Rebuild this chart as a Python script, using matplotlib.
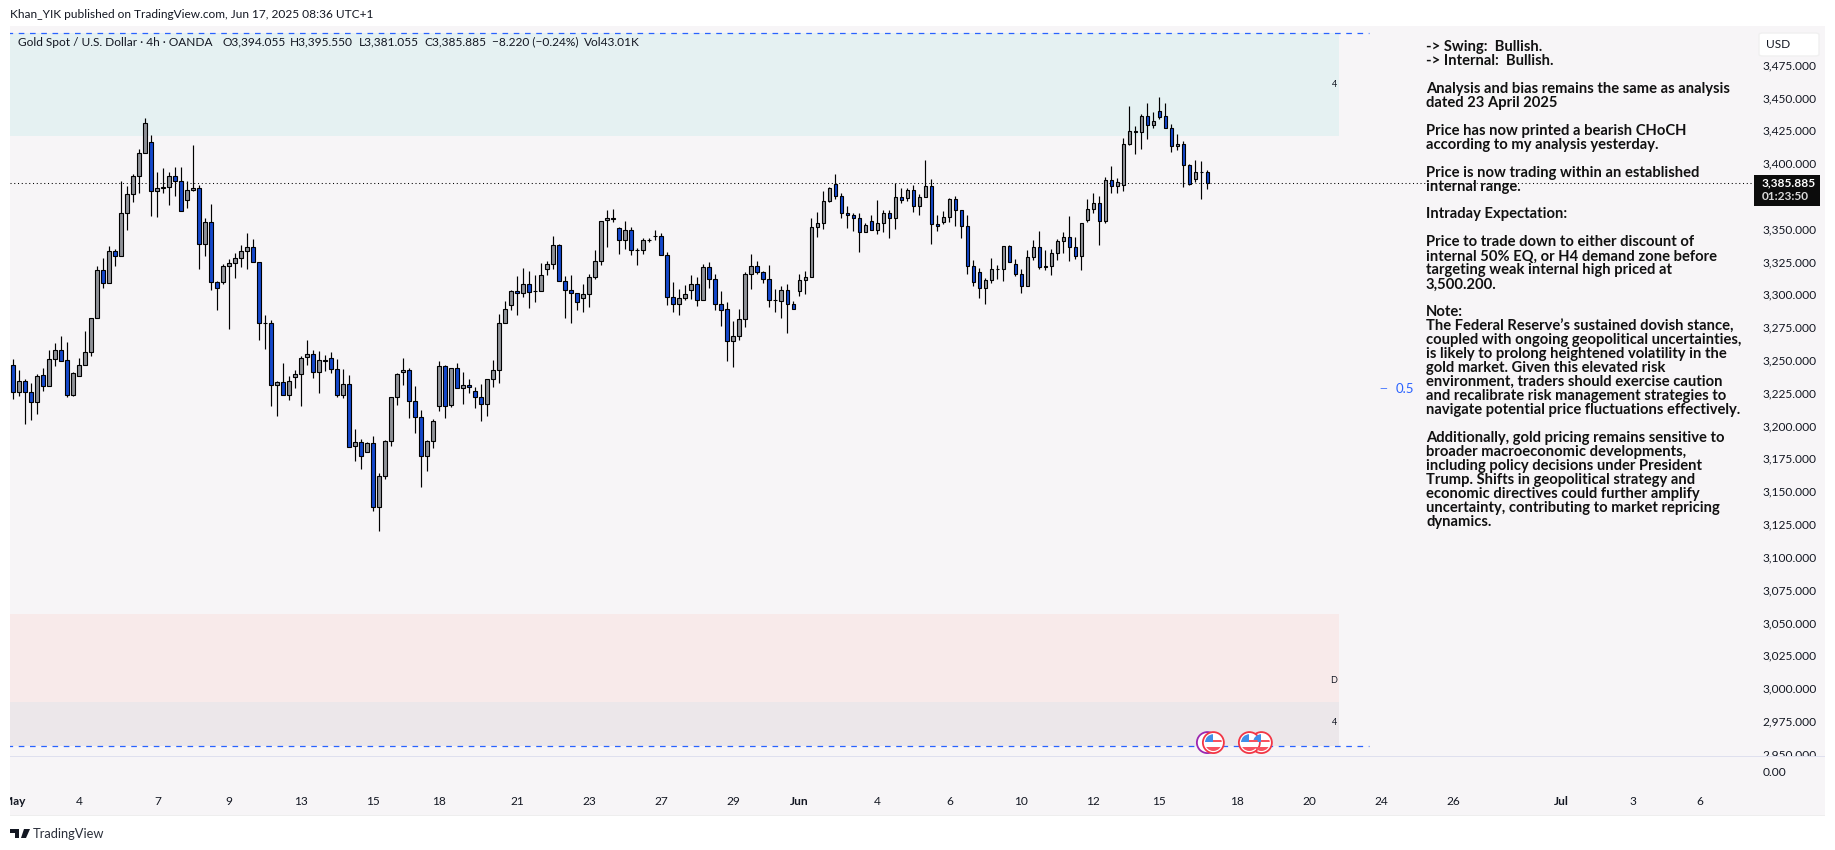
import matplotlib
matplotlib.use("Agg")
from matplotlib import pyplot as plt
from matplotlib.patches import Ellipse, FancyBboxPatch, Polygon, Rectangle
from matplotlib.transforms import ScaledTranslation

# candles, 4h bars, oldest first
opens = [
    3247.0, 3227.0, 3234.8, 3227.0, 3219.3, 3239.4, 3231.0, 3251.6, 3258.4, 3250.8,
    3224.7, 3238.6, 3247.0, 3256.9, 3282.8, 3319.4, 3309.5, 3333.9, 3330.1, 3362.8,
    3377.3, 3391.0, 3408.6, 3416.9, 3379.6, 3382.4, 3382.7, 3391.0, 3387.2, 3372.7,
    3380.4, 3381.9, 3339.2, 3356.0, 3310.3, 3310.3, 3322.5, 3324.7, 3328.5, 3333.9,
    3336.9, 3325.5, 3279.0, 3279.0, 3231.8, 3234.1, 3224.2, 3237.9, 3240.2, 3253.2,
    3255.4, 3241.7, 3250.9, 3252.4, 3244.0, 3224.2, 3232.6, 3185.4, 3188.4, 3180.8,
    3187.6, 3138.9, 3162.5, 3189.2, 3222.7, 3241.7, 3243.3, 3219.6, 3207.4, 3177.7,
    3189.2, 3215.8, 3246.3, 3216.6, 3244.8, 3229.5, 3231.8, 3227.8, 3222.7, 3217.4,
    3236.4, 3243.3, 3279.1, 3292.8, 3303.5, 3301.9, 3308.8, 3303.5, 3303.5, 3320.3,
    3324.0, 3338.5, 3311.1, 3304.2, 3301.9, 3298.1, 3301.2, 3314.1, 3326.3, 3357.5,
    3359.1, 3351.4, 3342.3, 3349.9, 3334.7, 3334.7, 3342.3, 3345.8, 3345.3, 3330.9,
    3298.8, 3293.5, 3298.1, 3304.2, 3308.7, 3296.5, 3321.7, 3312.5, 3293.5, 3289.7,
    3265.3, 3269.1, 3282.1, 3316.4, 3322.5, 3317.9, 3312.5, 3296.5, 3295.8, 3304.2,
    3293.5, 3303.4, 3311.8, 3314.1, 3352.2, 3355.2, 3372.0, 3384.9, 3375.8, 3362.8,
    3361.3, 3359.1, 3348.4, 3356.8, 3349.9, 3355.3, 3362.9, 3359.1, 3375.1, 3374.3,
    3380.4, 3368.2, 3375.1, 3383.5, 3354.5, 3356.0, 3359.9, 3373.6, 3365.2, 3353.0,
    3322.5, 3317.9, 3305.7, 3311.8, 3320.2, 3320.2, 3337.8, 3324.0, 3316.4, 3307.3,
    3329.4, 3337.0, 3322.5, 3322.5, 3332.4, 3341.6, 3344.6, 3337.0, 3330.1, 3357.6,
    3365.9, 3370.5, 3356.8, 3388.0, 3383.5, 3384.2, 3415.5, 3425.4, 3424.6, 3436.8,
    3430.0, 3440.6, 3436.8, 3427.7, 3414.0, 3415.5, 3399.5, 3388.8, 3394.1, 3394.055,
]
closes = [
    3227.0, 3234.8, 3227.0, 3219.3, 3238.6, 3231.0, 3251.6, 3258.4, 3250.1, 3224.7,
    3240.9, 3247.0, 3256.9, 3282.8, 3319.4, 3309.5, 3333.9, 3330.1, 3362.8, 3377.3,
    3391.0, 3408.6, 3431.4, 3379.6, 3381.9, 3382.7, 3391.0, 3387.2, 3364.4, 3380.4,
    3381.9, 3339.2, 3356.0, 3310.3, 3305.7, 3322.5, 3324.7, 3328.5, 3333.9, 3336.9,
    3325.5, 3279.0, 3279.0, 3231.8, 3234.1, 3224.2, 3234.8, 3240.2, 3252.4, 3255.4,
    3241.7, 3250.9, 3250.1, 3244.0, 3224.2, 3232.6, 3184.6, 3188.4, 3177.7, 3187.6,
    3138.9, 3162.5, 3189.2, 3222.7, 3240.2, 3243.3, 3219.6, 3207.4, 3177.7, 3189.2,
    3204.4, 3246.3, 3215.8, 3244.8, 3229.5, 3231.8, 3230.3, 3222.7, 3217.4, 3236.4,
    3243.3, 3279.1, 3289.7, 3303.5, 3301.9, 3308.8, 3302.7, 3303.5, 3315.7, 3324.0,
    3338.5, 3311.1, 3304.2, 3301.9, 3295.1, 3301.2, 3314.1, 3326.3, 3356.8, 3359.1,
    3358.3, 3342.3, 3349.9, 3334.7, 3334.7, 3342.3, 3342.3, 3345.3, 3330.9, 3298.8,
    3293.5, 3298.1, 3301.1, 3308.7, 3296.5, 3321.7, 3312.5, 3293.5, 3288.9, 3265.3,
    3269.1, 3282.1, 3316.4, 3322.5, 3317.9, 3312.5, 3296.5, 3296.5, 3304.2, 3293.5,
    3289.7, 3311.8, 3314.1, 3352.2, 3355.2, 3372.0, 3381.9, 3375.8, 3362.8, 3361.3,
    3359.1, 3348.4, 3353.7, 3349.9, 3355.2, 3362.9, 3359.1, 3375.1, 3372.8, 3380.4,
    3368.2, 3375.1, 3383.5, 3354.5, 3353.0, 3359.9, 3373.6, 3365.2, 3353.0, 3322.5,
    3310.3, 3305.7, 3311.8, 3320.2, 3320.2, 3337.8, 3325.6, 3316.4, 3307.3, 3329.4,
    3337.0, 3321.8, 3321.8, 3332.4, 3341.6, 3344.6, 3337.0, 3330.1, 3355.3, 3365.9,
    3370.5, 3356.8, 3388.0, 3383.5, 3386.5, 3415.5, 3425.4, 3424.6, 3436.8, 3430.0,
    3433.0, 3436.1, 3427.7, 3414.0, 3415.5, 3399.5, 3385.0, 3394.1, 3394.1, 3385.885,
]
highs = [
    3251.6, 3243.2, 3236.3, 3233.3, 3240.2, 3244.7, 3258.4, 3264.0, 3269.1, 3264.5,
    3241.7, 3252.3, 3272.9, 3282.8, 3322.5, 3328.5, 3337.9, 3335.4, 3387.2, 3383.4,
    3392.6, 3411.6, 3435.2, 3422.3, 3394.1, 3397.1, 3394.1, 3397.9, 3397.9, 3387.5,
    3414.7, 3384.2, 3359.0, 3369.7, 3311.0, 3324.0, 3327.8, 3332.4, 3338.5, 3347.6,
    3343.0, 3325.5, 3285.1, 3281.3, 3234.8, 3248.5, 3238.6, 3243.2, 3253.9, 3266.1,
    3258.5, 3257.7, 3254.7, 3257.0, 3251.6, 3244.0, 3239.4, 3198.3, 3190.7, 3188.4,
    3193.0, 3164.8, 3189.9, 3222.7, 3241.0, 3252.4, 3244.8, 3231.1, 3212.8, 3189.9,
    3205.9, 3250.1, 3247.0, 3244.8, 3248.6, 3241.7, 3236.4, 3230.3, 3232.6, 3236.4,
    3250.9, 3285.9, 3295.8, 3304.2, 3314.9, 3321.0, 3318.7, 3315.7, 3324.8, 3326.3,
    3345.3, 3339.3, 3314.9, 3315.7, 3301.9, 3308.8, 3316.4, 3334.7, 3356.8, 3365.2,
    3365.9, 3352.2, 3356.8, 3352.2, 3336.2, 3343.8, 3343.8, 3349.9, 3347.6, 3333.1,
    3310.3, 3304.9, 3308.0, 3315.6, 3314.1, 3324.0, 3325.5, 3316.4, 3303.4, 3295.0,
    3280.5, 3289.7, 3317.9, 3331.6, 3326.3, 3318.7, 3323.2, 3304.9, 3307.2, 3308.7,
    3295.8, 3316.4, 3318.7, 3359.1, 3363.6, 3379.6, 3382.7, 3392.6, 3378.1, 3368.2,
    3362.8, 3362.8, 3355.2, 3361.3, 3372.8, 3365.2, 3365.2, 3385.8, 3381.9, 3381.9,
    3384.2, 3377.4, 3403.3, 3388.8, 3361.4, 3364.4, 3374.3, 3375.9, 3365.2, 3361.4,
    3327.1, 3321.0, 3313.4, 3328.6, 3323.3, 3337.8, 3338.5, 3327.8, 3320.2, 3334.7,
    3342.3, 3349.2, 3334.7, 3335.5, 3343.1, 3348.4, 3360.6, 3344.6, 3355.3, 3373.6,
    3378.1, 3375.9, 3390.3, 3398.7, 3389.6, 3420.0, 3444.4, 3429.2, 3438.3, 3446.7,
    3439.9, 3451.3, 3446.7, 3430.7, 3423.1, 3417.8, 3400.2, 3403.3, 3402.5, 3395.55,
]
lows = [
    3221.6, 3223.6, 3202.6, 3205.4, 3210.2, 3227.5, 3231.0, 3246.8, 3250.1, 3223.1,
    3223.9, 3238.6, 3247.0, 3254.4, 3282.8, 3305.9, 3309.5, 3322.7, 3330.1, 3350.1,
    3371.5, 3378.3, 3408.6, 3360.8, 3360.0, 3378.3, 3369.2, 3376.0, 3364.4, 3366.9,
    3379.6, 3320.4, 3330.3, 3304.4, 3289.2, 3309.0, 3274.7, 3313.6, 3321.9, 3320.4,
    3325.5, 3266.3, 3259.5, 3216.0, 3208.4, 3224.2, 3220.6, 3229.7, 3216.1, 3247.0,
    3237.7, 3226.2, 3242.5, 3241.5, 3223.2, 3222.4, 3184.6, 3174.4, 3168.3, 3180.8,
    3136.3, 3121.1, 3160.2, 3185.9, 3217.1, 3232.3, 3207.2, 3195.8, 3154.6, 3166.8,
    3184.3, 3212.5, 3207.2, 3215.6, 3229.5, 3217.9, 3226.2, 3214.8, 3204.9, 3208.7,
    3230.8, 3233.9, 3279.1, 3289.5, 3285.7, 3299.4, 3291.0, 3295.6, 3303.5, 3316.2,
    3320.7, 3311.1, 3283.4, 3279.6, 3289.5, 3288.0, 3291.8, 3313.1, 3323.5, 3337.2,
    3356.5, 3331.9, 3335.4, 3331.1, 3323.5, 3331.9, 3340.8, 3342.3, 3330.9, 3293.0,
    3287.7, 3285.4, 3296.8, 3297.6, 3292.2, 3296.5, 3305.9, 3289.2, 3277.2, 3250.6,
    3245.7, 3266.3, 3276.5, 3305.2, 3316.4, 3309.8, 3291.5, 3287.4, 3283.1, 3271.7,
    3289.7, 3300.1, 3301.4, 3314.1, 3344.6, 3350.9, 3371.2, 3374.0, 3359.1, 3351.7,
    3349.1, 3333.4, 3348.4, 3349.9, 3347.3, 3348.7, 3344.1, 3351.0, 3370.8, 3372.3,
    3363.7, 3361.6, 3375.1, 3339.5, 3349.4, 3354.5, 3356.0, 3353.0, 3344.1, 3316.7,
    3307.5, 3298.4, 3293.8, 3309.8, 3312.9, 3311.3, 3325.6, 3314.9, 3302.2, 3307.3,
    3327.3, 3320.2, 3319.5, 3315.9, 3327.3, 3332.7, 3326.6, 3327.8, 3319.7, 3356.3,
    3363.2, 3338.8, 3355.5, 3378.1, 3378.4, 3379.9, 3414.7, 3408.1, 3411.9, 3419.5,
    3427.9, 3435.0, 3427.7, 3409.6, 3411.2, 3382.7, 3384.2, 3386.5, 3373.8, 3381.055,
]

last_price = 3385.885
high_level = 3500.2
low_level = 2957.0
fib_price = 3229.0
zone_end_bar = 221
level_end_bar = 226
zone_lows = [3421.8, 2990.8, 2957.0]
zone_highs = [3500.2, 3057.3, 2990.8]
zone_colors = ["#e5f1f2", "#f8eaea", "#ece7ea"]
zone_marks = ["4", "D", "4"]
zone_mark_prices = [3461.0, 3006.8, 2974.6]

price_ticks = [3475, 3450, 3425, 3400, 3350, 3325, 3300, 3275, 3250, 3225, 3200,
               3175, 3150, 3125, 3100, 3075, 3050, 3025, 3000, 2975, 2950]
date_ticks = [0, 11, 24, 36, 48, 60, 71, 84, 96, 108, 120, 131, 144, 156, 168, 180,
              191, 204, 216, 228, 240, 258, 270, 281]
date_labels = ["May", "4", "7", "9", "13", "15", "18", "21", "23", "27", "29", "Jun",
               "4", "6", "10", "12", "15", "18", "20", "24", "26", "Jul", "3", "6"]
month_labels = ["May", "Jun", "Jul"]

# economic event flags, back ones first
event_bars = [208, 206, 200]
purple_event_bar = 199
event_price = 2959.6

legend_parts = ["Gold Spot / U.S. Dollar \u00b7 4h \u00b7 OANDA", "O3,394.055", "H3,395.550",
                "L3,381.055", "C3,385.885", "\u22128.220 (\u22120.24%)", "Vol43.01K"]
legend_x = [18, 222, 290, 358.5, 424, 492, 584]

notes = [
    "-> Swing:  Bullish.",
    "-> Internal:  Bullish.",
    "",
    "Analysis and bias remains the same as analysis",
    "dated 23 April 2025",
    "",
    "Price has now printed a bearish CHoCH",
    "according to my analysis yesterday.",
    "",
    "Price is now trading within an established",
    "internal range.",
    "",
    "Intraday Expectation:",
    "",
    "Price to trade down to either discount of",
    "internal 50% EQ, or H4 demand zone before",
    "targeting weak internal high priced at",
    "3,500.200.",
    "",
    "Note:",
    "The Federal Reserve\u2019s sustained dovish stance,",
    "coupled with ongoing geopolitical uncertainties,",
    "is likely to prolong heightened volatility in the",
    "gold market. Given this elevated risk",
    "environment, traders should exercise caution",
    "and recalibrate risk management strategies to",
    "navigate potential price fluctuations effectively.",
    "",
    "Additionally, gold pricing remains sensitive to",
    "broader macroeconomic developments,",
    "including policy decisions under President",
    "Trump. Shifts in geopolitical strategy and",
    "economic directives could further amplify",
    "uncertainty, contributing to market repricing",
    "dynamics.",
]

W, H = 1835, 850
BG = "#f7f5f7"
INK = "#131722"
BLUE = "#1447cc"
GRAY = "#8f9298"
LINE_BLUE = "#2962ff"

plt.rcParams["font.family"] = "Lato"


def fx(px):
    return px / W


def fy(py):
    return 1 - py / H


def pane(x0, y0, x1, y1):
    return [fx(x0), fy(y1), (x1 - x0) / W, (y1 - y0) / H]


def fig_rect(x0, y0, x1, y1, color, zorder):
    fig.add_artist(Rectangle((fx(x0), fy(y1)), (x1 - x0) / W, (y1 - y0) / H,
                             transform=fig.transFigure, facecolor=color,
                             edgecolor="none", zorder=zorder))


def draw_flag(ax, bar, price):
    # round US flag badge, sized in bar / price units to stay circular
    w, h = 21 / 6, 21 / 1.3125
    ax.add_patch(Ellipse((bar, price), w, h, facecolor="white", edgecolor="#f23645",
                         lw=1.3, zorder=7))
    inner = Ellipse((bar, price), w * 0.8, h * 0.8, transform=ax.transData)
    shapes = [
        (bar, price + h * 0.02, w, h * 0.12, "#f7525f"),
        (bar - w / 2, price - h * 0.38, w, h * 0.18, "#f7525f"),
        (bar - w / 2, price + h * 0.02, w * 0.5, h * 0.4, "#3f8fe8"),
    ]
    for x, y, sw, sh, col in shapes:
        r = Rectangle((x, y), sw, sh, facecolor=col, edgecolor="none", zorder=8)
        ax.add_patch(r)
        r.set_clip_path(inner)


fig = plt.figure(figsize=(W / 100, H / 100), dpi=100, facecolor="white")
fig_rect(9.5, 26, 1825, 815, BG, -1)

ax = fig.add_axes(pane(9.5, 26, 1754, 756.5), facecolor="none")
ax.set_xlim(-0.638, 290.1)
ax.set_ylim(2949.0, 3505.6)

# zones and levels
for lo, hi, col in zip(zone_lows, zone_highs, zone_colors):
    ax.fill_between([-1, zone_end_bar], lo, hi, color=col, lw=0, zorder=1)
for mark, y in zip(zone_marks, zone_mark_prices):
    ax.text(zone_end_bar - 0.4, y, mark, ha="right", va="center", fontsize=6.5,
            color=INK, zorder=3)
ax.hlines([high_level, low_level], -1, level_end_bar, color=LINE_BLUE, lw=0.9,
          linestyles=(0, (4.5, 4.5)), zorder=2)
ax.axhline(last_price, color="black", lw=0.75, linestyle=(0, (1, 2.6)), zorder=2)

# candles
bars = list(range(len(opens)))
colors = [BLUE if c < o else GRAY for o, c in zip(opens, closes)]
ax.vlines(bars, lows, highs, color="black", lw=0.85, zorder=4)
ax.bar(bars, [abs(c - o) for o, c in zip(opens, closes)],
       bottom=[min(o, c) for o, c in zip(opens, closes)],
       width=0.62, color=colors, edgecolor="black", lw=0.8, zorder=5)

ax.text(227.6, fib_price, "\u2014", color=LINE_BLUE, fontsize=7, ha="left", va="center")
ax.text(230.4, fib_price, "0.5", color=LINE_BLUE, fontsize=9.5, ha="left", va="center")

# flags: purple ring behind the first one
ax.add_patch(Ellipse((purple_event_bar, event_price), 21 / 6, 21 / 1.3125, facecolor="white",
                     edgecolor="#9c27b0", lw=1.3, zorder=6))
for bar in event_bars:
    draw_flag(ax, bar, event_price)

ax.yaxis.tick_right()
ax.set_yticks(price_ticks)
ax.set_yticklabels([f"{p:,.3f}" for p in price_ticks])
ax.tick_params(axis="y", length=0, pad=6, labelsize=8.6, labelcolor=INK)
nudge = ScaledTranslation(0, 1.5 / 100, fig.dpi_scale_trans)
for lab in ax.get_yticklabels():
    lab.set_transform(lab.get_transform() + nudge)
ax.set_xticks([])
for s in ax.spines.values():
    s.set_visible(False)

# lower pane and time axis
ax2 = fig.add_axes(pane(9.5, 756.5, 1754, 786), facecolor=BG, zorder=2)
ax2.set_xlim(ax.get_xlim())
ax2.set_ylim(-1, 1)
ax2.yaxis.tick_right()
ax2.set_yticks([0])
ax2.set_yticklabels(["0.00"])
ax2.tick_params(axis="y", length=0, pad=6, labelsize=8.6, labelcolor=INK)
ax2.set_xticks(date_ticks)
ax2.set_xticklabels(date_labels)
ax2.tick_params(axis="x", length=0, pad=7.5, labelsize=8.6, labelcolor=INK)
for lab in ax2.get_xticklabels():
    if lab.get_text() in month_labels:
        lab.set_fontweight("bold")
for s in ax2.spines.values():
    s.set_visible(False)

# strips over the pane edges
fig_rect(1754, 756.5, 1825, 786, BG, 1)
fig_rect(9.5, 756, 1825, 757.2, "#dfe0ee", 5)
fig_rect(9.5, 815, 1825, 816, "#eeeeee", 5)
fig_rect(0, 770, 9.5, 815, "white", 6)

# last price badge
fig_rect(1754, 175, 1820, 205.7, "#0c0c0c", 6)
fig.text(fx(1762), fy(182.7), "3,385.885", color="white", fontsize=8.6, fontweight="bold",
         va="center", zorder=7)
fig.text(fx(1762), fy(197), "01:23:50", color="#d9d9d9", fontsize=8.6, fontweight="bold",
         va="center", zorder=7)

# currency button
fig.add_artist(FancyBboxPatch((fx(1759), fy(56)), 60 / W, 23 / H, transform=fig.transFigure,
                              boxstyle="round,pad=0,rounding_size=0.002", facecolor="white",
                              edgecolor="#f0f0f0", lw=1, zorder=6))
fig.text(fx(1766), fy(44.6), "USD", color=INK, fontsize=8.6, va="center", zorder=7)

# header
fig.text(fx(10), fy(15), "Khan_YIK published on TradingView.com, Jun 17, 2025 08:36 UTC+1",
         color=INK, fontsize=8.55, va="center")
for part, x in zip(legend_parts, legend_x):
    fig.text(fx(x), fy(42), part, color=INK, fontsize=8.6, va="center", zorder=7)

# notes overlay
for i, line in enumerate(notes):
    if line:
        fig.text(fx(1426), fy(46.7 + i * 13.98), line, color="#111111", fontsize=10.6,
                 fontweight="bold", va="center", zorder=7)

# footer logo
fig.add_artist(Polygon([(fx(10), fy(829)), (fx(19), fy(829)), (fx(19), fy(838)),
                        (fx(15), fy(838)), (fx(15), fy(833)), (fx(10), fy(833))],
                       transform=fig.transFigure, facecolor=INK, edgecolor="none"))
fig.add_artist(Polygon([(fx(24), fy(829)), (fx(30), fy(829)), (fx(26), fy(838)), (fx(21), fy(838))],
                       transform=fig.transFigure, facecolor=INK, edgecolor="none"))
fig.text(fx(33), fy(833.5), "TradingView", color="#2a2e39", fontsize=9.3, va="center")

fig.savefig("out.png", dpi=100)
